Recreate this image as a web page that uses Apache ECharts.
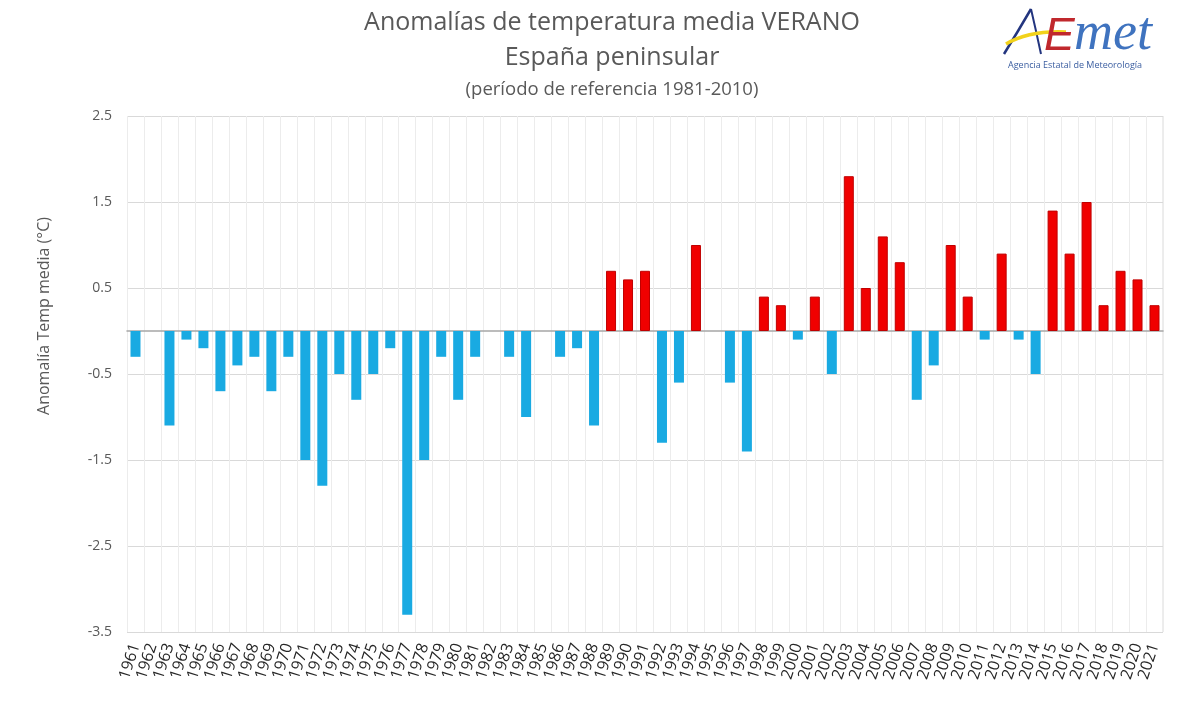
<!DOCTYPE html>
<html><head><meta charset="utf-8">
<script src="https://cdn.jsdelivr.net/npm/echarts@6/dist/echarts.min.js"></script>
<style>html,body{margin:0;padding:0;background:#fff}#c{width:1200px;height:703px}</style>
</head><body><div id="c"></div>
<script>
const years = [];
for (let y = 1961; y <= 2021; y++) years.push(String(y));
const anomalies = [
 -0.3, 0.0, -1.1, -0.1, -0.2, -0.7, -0.4, -0.3, -0.7, -0.3,
 -1.5, -1.8, -0.5, -0.8, -0.5, -0.2, -3.3, -1.5, -0.3, -0.8,
 -0.3, 0.0, -0.3, -1.0, 0.0, -0.3, -0.2, -1.1, 0.7, 0.6,
 0.7, -1.3, -0.6, 1.0, 0.0, -0.6, -1.4, 0.4, 0.3, -0.1,
 0.4, -0.5, 1.8, 0.5, 1.1, 0.8, -0.8, -0.4, 1.0, 0.4,
 -0.1, 0.9, -0.1, -0.5, 1.4, 0.9, 1.5, 0.3, 0.7, 0.6,
 0.3
];
const titleLines = ['Anomalías de temperatura media VERANO', 'España peninsular'];
const subtitle = '(período de referencia 1981-2010)';
const yName = 'Anomalía Temp media (°C)';
const logoSub = 'Agencia Estatal de Meteorología';

const chart = echarts.init(document.getElementById('c'), null, {renderer: 'canvas'});
const font = '"Open Sans", "Noto Sans", sans-serif';
chart.setOption({
  animation: false,
  backgroundColor: '#fff',
  textStyle: {fontFamily: font},
  title: [
    {text: titleLines[0], left: 607, top: 5, textAlign: 'center',
     textStyle: {fontSize: 25, fontWeight: 'normal', color: '#595959', fontFamily: font}},
    {text: titleLines[1], left: 607, top: 40, textAlign: 'center',
     textStyle: {fontSize: 25, fontWeight: 'normal', color: '#595959', fontFamily: font}},
    {text: subtitle, left: 607, top: 75, textAlign: 'center',
     textStyle: {fontSize: 18.5, fontWeight: 'normal', color: '#595959', fontFamily: font}}
  ],
  grid: {left: 127, right: 37, top: 116, bottom: 71, containLabel: false, show: false},
  xAxis: {
    type: 'category', data: years, boundaryGap: true,
    axisLine: {onZero: true, lineStyle: {color: '#a6a6a6', width: 1.5}},
    axisTick: {show: false},
    splitLine: {show: true, interval: 0, lineStyle: {color: '#ececec', width: 1}},
    axisLabel: {interval: 0, rotate: 72, fontSize: 16, color: '#262626', margin: 12,
                fontFamily: font}
  },
  yAxis: {
    type: 'value', min: -3.5, max: 2.5, interval: 1,
    axisLine: {show: false}, axisTick: {show: false},
    axisLabel: {fontSize: 14, color: '#595959', margin: 15,
                formatter: v => v.toFixed(1), fontFamily: font},
    splitLine: {lineStyle: {color: '#d9d9d9', width: 1}}
  },
  series: [{
    type: 'bar', barWidth: 10,
    data: anomalies.map(v => ({
      value: v,
      itemStyle: v > 0 ? {color: '#f00000', borderColor: '#c00000', borderWidth: 1}
                       : {color: '#19aae2'}
    }))
  }],
  graphic: [
    {type: 'rect', shape: {x: 1163, y: 116, width: 0, height: 516},
     style: {stroke: '#e6e6e6', lineWidth: 1}},
    {type: 'text', x: 44, y: 316, rotation: Math.PI / 2,
     style: {text: yName, fontSize: 16, fill: '#595959', fontFamily: font,
             align: 'center', verticalAlign: 'middle'}},
    // logo
    {type: 'polyline', shape: {points: [[1004, 54], [1018, 31], [1031, 9]]},
     style: {stroke: '#23357f', lineWidth: 2.5, fill: null}, z: 10},
    {type: 'polyline', shape: {points: [[1031, 9], [1036, 31], [1041, 54]]},
     style: {stroke: '#23357f', lineWidth: 2, fill: null}, z: 10},
    {type: 'bezierCurve', shape: {x1: 1006, y1: 44, cpx1: 1025, cpy1: 33, cpx2: 1045, cpy2: 31, x2: 1066, y2: 32},
     style: {stroke: '#f2d21b', lineWidth: 3.5, fill: null}, z: 11},
    {type: 'text', x: 1044, y: 14, z: 12,
     style: {text: 'E', fontSize: 46, fill: '#c0282d', fontFamily: '"Liberation Sans"', fontStyle: 'italic'}},
    {type: 'text', x: 1074, y: 8, z: 12,
     style: {text: 'met', fontSize: 54, fill: '#3f73bf', fontFamily: '"Liberation Serif"', fontStyle: 'italic'}},
    {type: 'text', x: 1008, y: 61, z: 11,
     style: {text: logoSub, fontSize: 9, fill: '#3a5da0', fontFamily: font}}
  ]
});
</script></body></html>
